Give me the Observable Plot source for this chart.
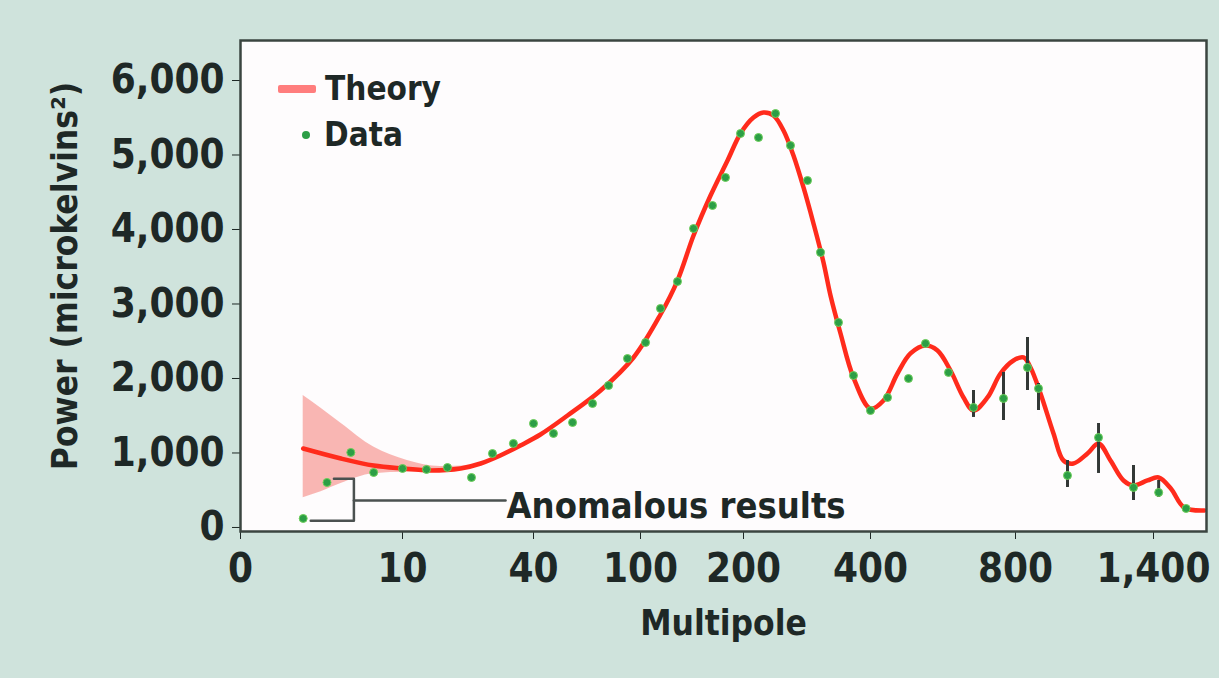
<!DOCTYPE html>
<html><head><meta charset="utf-8">
<script src="https://cdn.jsdelivr.net/npm/d3@7"></script>
<script src="https://cdn.jsdelivr.net/npm/@observablehq/plot@0.6"></script>
<style>
html,body{margin:0;padding:0;background:#cfe3dc;}
#wrap{position:relative;width:1219px;height:678px;overflow:hidden;}
#legend{position:absolute;left:278px;top:66px;font-family:"DejaVu Sans Condensed",sans-serif;font-weight:bold;font-size:33px;color:#1e2826;line-height:46px;}
#legend .row{display:flex;align-items:center;}
#legend .sw-line{display:inline-block;width:38px;height:8px;background:#ff7d7d;margin-right:9px;border-radius:2px;}
#legend .sw-dot{display:inline-block;width:8px;height:8px;border-radius:50%;background:#2c9e46;margin-left:24px;margin-right:14px;}
</style></head><body>
<div id="wrap"><div id="chart"></div>
<div id="legend"><div class="row"><span class="sw-line"></span><span>Theory</span></div><div class="row"><span class="sw-dot"></span><span>Data</span></div></div>
</div>
<script>
// Axis ticks (non-uniform multipole axis)
const xTicks = [0, 10, 40, 100, 200, 400, 800, 1400];
const yTicks = [0, 1000, 2000, 3000, 4000, 5000, 6000];

// Theory curve (multipole, power in microkelvin^2)
const theoryL = [3.87, 6.2, 8.22, 10, 16.4, 23.3, 27.9, 32.4, 37.0, 43.9, 59.1, 77.6, 96.1, 119.4, 135.9, 151.5, 168.0, 184.5, 197.1, 215.7, 231.5, 247.2, 263.0, 278.7, 294.5, 310.2, 326.0, 337.0, 352.8, 373.2, 400, 435.9, 474.5, 510.3, 551.7, 584.8, 620.7, 656.6, 684.1, 722.8, 758.6, 794.5, 834.8, 865.2, 908.7, 965.2, 1008.7, 1052.2, 1113.0, 1160.9, 1213.0, 1269.6, 1313.0, 1373.9, 1421.7, 1473.9, 1530.4, 1617.4];
const theoryP = [1060, 926, 832, 792, 765, 792, 859, 966, 1101, 1248, 1503, 1839, 2282, 2859, 3315, 3919, 4456, 4926, 5289, 5503, 5570, 5530, 5329, 4993, 4564, 4081, 3557, 3114, 2604, 2013, 1597, 1705, 2067, 2336, 2443, 2376, 2107, 1745, 1570, 1745, 2067, 2242, 2282, 2148, 1799, 1262, 899, 859, 993, 1128, 899, 631, 564, 631, 671, 523, 268, 228];

// Uncertainty band of theory at low multipoles
const bandL = [3.87, 4.97, 6.2, 8.22, 11.1, 18.7, 25.6];
const bandLo = [400, 480, 590, 720, 740, 740, 790];
const bandHi = [1770, 1600, 1400, 1080, 900, 820, 830];

// Measured data points
const dataL = [3.87, 5.34, 6.81, 8.22, 10, 15.5, 20.3, 25.8, 30.6, 35.4, 40, 51.2, 61.9, 73.1, 82.1, 92.7, 104.9, 119.4, 135.9, 151.5, 169.9, 182.5, 197.1, 223.6, 250.4, 274.0, 300.8, 321.3, 349.6, 373.2, 400, 446.9, 504.8, 551.7, 615.2, 684.1, 766.9, 852.2, 900, 1026, 1161, 1313, 1422, 1539];
const dataP = [121, 604, 1007, 738, 792, 779, 805, 671, 993, 1128, 1396, 1262, 1409, 1664, 1906, 2268, 2483, 2940, 3302, 4013, 4322, 4698, 5289, 5235, 5557, 5128, 4658, 3691, 2752, 2040, 1570, 1745, 2000, 2470, 2081, 1611, 1732, 2148, 1866, 698, 1208, 537, 470, 255];

// Error bars on high-multipole data
const errL = [684.1, 766.9, 852.2, 900, 1026, 1161, 1313, 1422];
const errLo = [1477, 1436, 1839, 1570, 537, 725, 362, 403];
const errHi = [1839, 2081, 2550, 1933, 899, 1396, 832, 631];

// Annotation
const anomalousLabel = "Anomalous results";
const bracketL = 7.0, labelL = 33.6;

const theory = theoryL.map((l, i) => ({l, p: theoryP[i]}));
const band = bandL.map((l, i) => ({l, lo: bandLo[i], hi: bandHi[i]}));
const data = dataL.map((l, i) => ({l, p: dataP[i]}));
const errs = errL.map((l, i) => ({l, lo: errLo[i], hi: errHi[i]}));
const a0 = data[0], a1 = data[1];
const midP = (a0.p + a1.p) / 2;
const bracket = [{l: a0.l * 1.12, p: a0.p - 30}, {l: bracketL, p: a0.p - 30}, {l: bracketL, p: a1.p + 50}, {l: a1.l * 1.08, p: a1.p + 50}];
const stem = [{l: bracketL, p: midP}, {l: labelL, p: midP}];

// layout: pixel positions of the irregular axis ticks
const W = 1219, H = 678;
const xDomain = [...xTicks, 1626];
const xRange = [240, 402, 533, 640, 743, 870, 1015, 1153, 1206];

const ink = "#1e2826";
const chart = Plot.plot({
  width: W, height: H,
  marginLeft: 240, marginRight: 13, marginTop: 40, marginBottom: 147,
  style: {fontFamily: "DejaVu Sans Condensed, sans-serif", fontSize: "40px", fontWeight: "bold", background: "#cfe3dc", color: ink},
  x: {type: "linear", domain: xDomain, range: xRange},
  y: {domain: [-54, 6537]},
  marks: [
    Plot.frame({fill: "#fefcfd"}),
    Plot.areaY(band, {x: "l", y1: "lo", y2: "hi", fill: "#f8a9a6", fillOpacity: 0.85, curve: "monotone-x"}),
    Plot.line(theory, {x: "l", y: "p", stroke: "#ff2b1c", strokeWidth: 4.5, curve: "catmull-rom"}),
    Plot.ruleX(errs, {x: "l", y1: "lo", y2: "hi", stroke: "#333836", strokeWidth: 3}),
    Plot.dot(data, {x: "l", y: "p", r: 4, fill: "#2c9e46", stroke: "#6fcf5a", strokeWidth: 1}),
    Plot.line(bracket, {x: "l", y: "p", stroke: "#4b5150", strokeWidth: 2.5}),
    Plot.line(stem, {x: "l", y: "p", stroke: "#4b5150", strokeWidth: 2.5}),
    Plot.text([anomalousLabel], {x: labelL, y: midP, text: d => d, textAnchor: "start", dx: 1, dy: 6, fontSize: 36, fill: ink}),
    Plot.axisY({ticks: yTicks, tickFormat: d3.format(","), tickSize: 8, tickPadding: 8, label: null, stroke: ink}),
    Plot.axisX({ticks: xTicks, tickFormat: d3.format(","), tickSize: 8, tickPadding: 14, label: null, stroke: ink}),
    Plot.frame({stroke: "#3b4540", strokeWidth: 2.5}),
    Plot.text(["Power (microkelvins²)"], {frameAnchor: "left", textAnchor: "middle", rotate: -90, dx: -175, dy: -10, fontSize: 35, fill: ink}),
    Plot.text(["Multipole"], {frameAnchor: "bottom", dy: 103, fontSize: 35, fill: ink})
  ]
});
document.getElementById("chart").appendChild(chart);
</script>
</body></html>
